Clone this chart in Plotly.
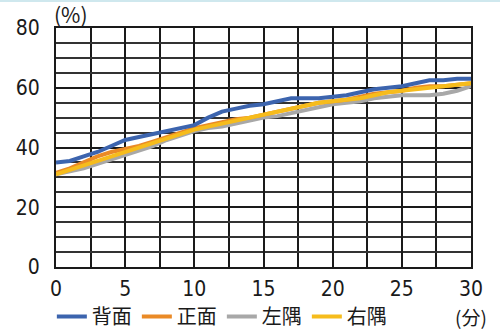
import plotly.graph_objects as go

minutes = list(range(31))
back = [35, 35.5, 37, 38.5, 40.5, 42.5, 43.5, 44.5, 45.5, 46.5, 47.5, 50, 52, 53, 54, 54.5,
        55.5, 56.5, 56.5, 56.5, 57, 57.5, 58.5, 59.5, 60, 60.5, 61.5, 62.5, 62.5, 63, 63]
front = [31.5, 33, 35, 37, 38.5, 39.5, 40.5, 42, 43.5, 45, 46.5, 47.5, 48.5, 49.5, 50, 51,
         52, 53, 54, 55, 55.5, 56, 57, 58, 58.5, 59, 60, 60.5, 60.5, 61, 61.5]
left = [31, 32, 33, 34.5, 36, 37.5, 39, 40.5, 42.5, 44, 45.5, 46.5, 47, 48, 49, 50,
        50.5, 51.5, 52.5, 53.5, 54.5, 55, 55.5, 56.5, 57, 57.5, 57.5, 57.5, 58, 59, 60.5]
right = [31, 32.5, 34, 35.5, 37, 38.5, 40, 41.5, 43, 44.5, 46, 47, 48, 49, 50, 51,
         52, 53, 54, 55, 55.5, 56, 56.5, 57.5, 58.5, 59, 59.5, 60, 60.5, 61, 61.5]
names = ["背面", "正面", "左隅", "右隅"]
colors = ["#3C64AE", "#EA8A26", "#A8A8A8", "#F6BC1C"]

fig = go.Figure()
order = [2, 1, 3, 0]
series = [back, front, left, right]
for i in order:
    fig.add_trace(go.Scatter(x=minutes, y=series[i], name=names[i], mode="lines",
                             line=dict(color=colors[i], width=4), legendrank=i + 1))

tickfont = dict(family="DejaVu Sans Condensed", size=21, color="#1a1a1a")
gridc = "#1a1a1a"
fig.update_xaxes(range=[0, 30], tickvals=[0, 5, 10, 15, 20, 25, 30], showgrid=True,
                 gridcolor=gridc, gridwidth=2, showline=True, linecolor=gridc, linewidth=2,
                 mirror=True, zeroline=False, ticks="", tickfont=tickfont, ticklabelstandoff=2,
                 minor=dict(tickvals=[2.5 + 5 * k for k in range(6)], showgrid=True,
                            gridcolor=gridc, gridwidth=2))
fig.update_yaxes(range=[0, 80], tickvals=[0, 20, 40, 60, 80], showgrid=True,
                 gridcolor=gridc, gridwidth=2, showline=True, linecolor=gridc, linewidth=2,
                 mirror=True, zeroline=False, ticks="", tickfont=tickfont, ticklabelstandoff=10,
                 minor=dict(tickvals=[5, 10, 15, 25, 30, 35, 45, 50, 55, 65, 70, 75], showgrid=True,
                            gridcolor="#333333", gridwidth=2))

fig.add_annotation(text="(%)", xref="paper", yref="paper", x=-0.01, y=1.0, yshift=14,
                   xanchor="left", yanchor="middle", showarrow=False,
                   font=dict(family="Noto Sans CJK JP", size=21, color="#1a1a1a"))
fig.add_annotation(text="(分)", xref="paper", yref="paper", x=1.0, y=0, yshift=-49,
                   xanchor="center", yanchor="middle", showarrow=False,
                   font=dict(family="Noto Sans CJK JP", size=19, color="#1a1a1a"))

fig.update_layout(
    width=500, height=334, margin=dict(l=56, r=29, t=28, b=67, autoexpand=False),
    paper_bgcolor="white", plot_bgcolor="white",
    legend=dict(orientation="h", x=-0.01, xanchor="left", y=-0.125, yanchor="top",
                font=dict(family="Noto Sans CJK JP", size=20, color="#1a1a1a"),
                itemwidth=30, tracegroupgap=0, bgcolor="rgba(0,0,0,0)"),
    showlegend=True,
)
fig.add_shape(type="line", xref="paper", yref="paper", x0=-0.2, x1=1.1, y0=1.115, y1=1.115,
              line=dict(color="#cfe8ee", width=3))
fig.write_html("out.html")
